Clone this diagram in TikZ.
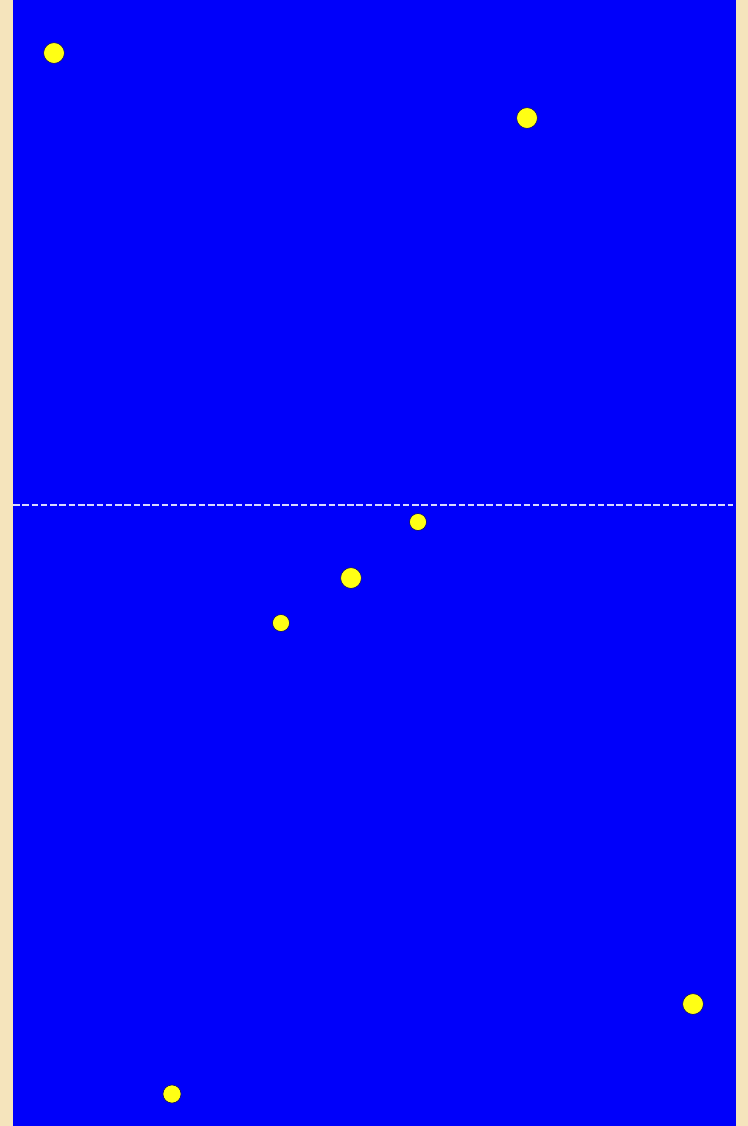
\documentclass[tikz,border=0pt]{standalone}
\usepackage{xcolor}
\usepackage{tikz}
\usetikzlibrary{positioning, calc}
\definecolor{paper}{RGB}{245,228,188}
\definecolor{field}{RGB}{0,0,250}
\definecolor{spot}{RGB}{255,255,20}
\tikzset{
  star/.style={
    circle,
    fill=spot,
    draw=black!60!field,
    line width=0.4pt,
    inner sep=0pt,
    minimum size=#1
  },
  star/.default=0.5cm,
  horizon/.style={
    white!85!field,
    line width=1.3pt,
    dash pattern=on 5pt off 2pt
  }
}
\begin{document}
\begin{tikzpicture}[x=0.0265cm, y=-0.0265cm]

  % --- background ---
  \fill[paper] (0,0) rectangle (748,1126);
  \fill[field] (13,0) rectangle (736,1126);
  \useasboundingbox (0,0) rectangle (748,1126);

  % --- horizon ---
  \coordinate (H_left) at (13,505);
  \coordinate (H_right) at (733,505);
  \draw[horizon] (H_left) -- (H_right);

  % --- upper dots ---
  \node (S1) [star=0.55cm] at (54,53) {};
  \node (S2) [star=0.55cm] at (527,118) {};

  % --- middle dots ---
  \node (S3) [star=0.45cm] at (418,522) {};
  \node (S4) [star=0.55cm] at (351,578) {};
  \node (S5) [star=0.45cm] at (281,623) {};

  % --- lower dots ---
  \node (S6) [star=0.55cm] at (693,1004) {};
  \node (S7) [star=0.48cm] at (172,1094) {};

\end{tikzpicture}
\end{document}
